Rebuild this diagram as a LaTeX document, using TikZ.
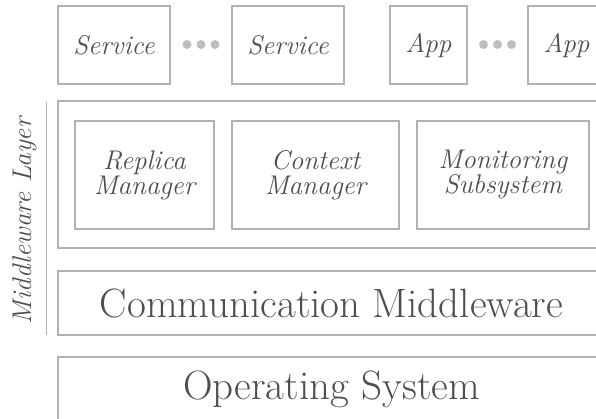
\documentclass[tikz,border=0pt]{standalone}
\usepackage{fontspec}
\usepackage{tikz}
\usetikzlibrary{positioning}
\definecolor{linegray}{RGB}{178,178,178}
\definecolor{textgray}{RGB}{78,78,78}
\definecolor{dotgray}{RGB}{190,190,190}
\newcommand{\smallit}{\fontsize{27}{25}\selectfont\itshape}
\newcommand{\bigrm}{\fontsize{41}{44}\selectfont}

\begin{document}
\begin{tikzpicture}[x=1pt,y=-1pt,
    layer/.style={draw=linegray, line width=1.6pt, inner sep=0pt, text=textgray, align=center},
    dotmark/.style={fill=dotgray, draw=none}]
    \useasboundingbox (0,0) rectangle (596,418);
    \clip (0,0) rectangle (596,418);
    % top row
    \node[layer, minimum width=112pt, minimum height=78pt, font=\smallit] (serviceA) at (114,45) {Service};
    \node[layer, minimum width=112pt, minimum height=78pt, font=\smallit] (serviceB) at (288,45) {Service};
    \node[layer, minimum width=77pt, minimum height=78pt, font=\smallit] (appA) at (428.5,45) {App};
    \node[layer, minimum width=77pt, minimum height=78pt, font=\smallit] (appB) at (566.5,45) {App};
    \foreach \x in {187,201,215,483.5,497.5,511.5}
        \fill[dotmark] (\x,44.5) circle (4.5pt);
    % middleware
    \node[layer, minimum width=547pt, minimum height=147pt] (mwlayer) at (331.5,174.5) {};
    \node[layer, minimum width=139pt, minimum height=108pt, font=\smallit] (replica) at (144.5,175) {Replica\\Manager};
    \node[layer, minimum width=167pt, minimum height=108pt, font=\smallit] (context) at (315.5,175) {Context\\Manager};
    \node[layer, minimum width=172pt, minimum height=108pt, font=\smallit] (monitor) at (503,175) {Monitoring\\Subsystem};
    \node[layer, minimum width=547pt, minimum height=64pt, font=\bigrm] (comm) at (331.5,303) {Communication Middleware};
    \node[layer, minimum width=547pt, minimum height=64pt, font=\bigrm] (os) at (331.5,389) {Operating System};
    % side label
    \coordinate (bracetop) at (46.5,102);
    \coordinate (bracebot) at (46.5,335);
    \draw[linegray, line width=1.6pt] (bracetop) -- (bracebot);
    \node[rotate=90, anchor=base, text=textgray, font=\smallit, inner sep=0pt] (mwlabel) at (31,221) {Middleware Layer};
\end{tikzpicture}
\end{document}
